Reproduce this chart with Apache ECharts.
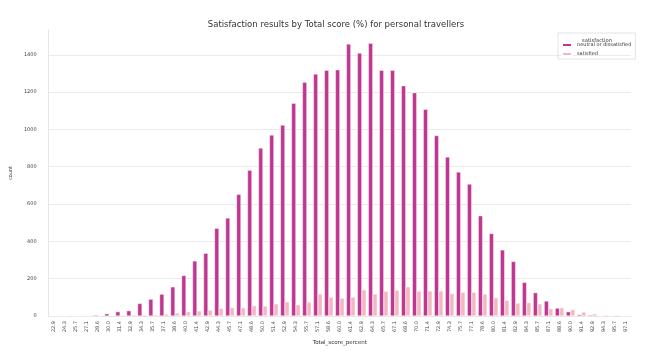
<!DOCTYPE html>
<html>
<head>
<meta charset="utf-8">
<script src="https://cdn.jsdelivr.net/npm/echarts@6/dist/echarts.min.js"></script>
<style>
  html, body { margin: 0; padding: 0; background: #fff; }
  #chart { width: 672px; height: 351px; }
</style>
</head>
<body>
<div id="chart"></div>
<script>
// ===== 数据 =====
const scores = ["22.9","24.3","25.7","27.1","28.6","30.0","31.4","32.9","34.3","35.7","37.1","38.6","40.0","41.4","42.9","44.3","45.7","47.1","48.6","50.0","51.4","52.9","54.3","55.7","57.1","58.6","60.0","61.4","62.9","64.3","65.7","67.1","68.6","70.0","71.4","72.9","74.3","75.7","77.1","78.6","80.0","81.4","82.9","84.3","85.7","87.1","88.6","90.0","91.4","92.9","94.3","95.7","97.1"];

const neutralOrDissatisfied = [0,0,1,1,5,12,23,28,67,90,117,156,217,295,336,470,525,652,781,900,970,1023,1140,1253,1297,1317,1320,1458,1409,1462,1317,1317,1234,1197,1108,967,852,772,707,537,442,354,292,180,125,80,42,23,7,5,1,0,0];

const satisfied = [0,0,0,0,2,3,5,6,6,6,10,16,23,27,32,41,44,44,55,53,65,76,60,74,118,101,95,101,140,118,133,138,156,133,134,134,120,127,127,117,97,83,69,72,65,39,44,34,21,11,5,5,2];

const yTicks = [0, 200, 400, 600, 800, 1000, 1200, 1400];

const DARK = "#bf3790";
const LIGHT = "#f4b6c3";

const chart = echarts.init(document.getElementById("chart"));

chart.setOption({
  animation: false,
  backgroundColor: "#fff",
  textStyle: { fontFamily: "DejaVu Sans, sans-serif" },
  title: [
    {
      text: "Satisfaction results by Total score (%) for personal travellers",
      left: "center", top: 15,
      textStyle: { fontSize: 8.5, fontWeight: "normal", color: "#333" },
    },
    {
      text: "satisfaction",
      left: 592, top: 33, textAlign: "center",
      textStyle: { fontSize: 5.2, fontWeight: "normal", color: "#333" },
    },
  ],
  legend: {
    orient: "vertical",
    left: 558, top: 33,
    padding: [9, 4, 2, 3],
    itemGap: 3,
    itemWidth: 10, itemHeight: 4,
    borderColor: "#ddd", borderWidth: 0.8,
    textStyle: { fontSize: 5, color: "#333" },
    data: ["neutral or dissatisfied", "satisfied"],
  },
  grid: { left: 37, right: 41, top: 30, bottom: 32 },
  xAxis: {
    type: "category",
    data: scores,
    name: "Total_score_percent",
    nameLocation: "middle",
    nameGap: 16,
    nameTextStyle: { fontSize: 5.5, color: "#333" },
    axisLine: { show: true, lineStyle: { color: "#e6e6e6", width: 1 } },
    axisTick: { show: false },
    axisLabel: { rotate: 90, fontSize: 5, color: "#444", margin: 5, interval: 0 },
  },
  yAxis: {
    type: "value",
    min: 0, max: 1533, interval: 200,
    name: "count",
    nameLocation: "middle",
    nameGap: 22,
    nameTextStyle: { fontSize: 5, color: "#333" },
    axisLine: { show: true, lineStyle: { color: "#e6e6e6", width: 1 } },
    axisTick: { show: false },
    axisLabel: {
      fontSize: 5, color: "#444", margin: 12, showMaxLabel: false,
      formatter: v => (yTicks.includes(v) ? String(v) : ""),
    },
    splitLine: { show: true, showMaxLine: false, lineStyle: { color: "#ebebeb", width: 1 } },
  },
  series: [
    {
      name: "neutral or dissatisfied",
      type: "bar",
      data: neutralOrDissatisfied,
      barGap: "0%",
      barCategoryGap: "20%",
      itemStyle: { color: DARK, borderColor: "#fff", borderWidth: 0.4 },
    },
    {
      name: "satisfied",
      type: "bar",
      data: satisfied,
      barGap: "0%",
      barCategoryGap: "20%",
      itemStyle: { color: LIGHT, borderColor: "#fff", borderWidth: 0.4 },
    },
  ],
});
</script>
</body>
</html>
